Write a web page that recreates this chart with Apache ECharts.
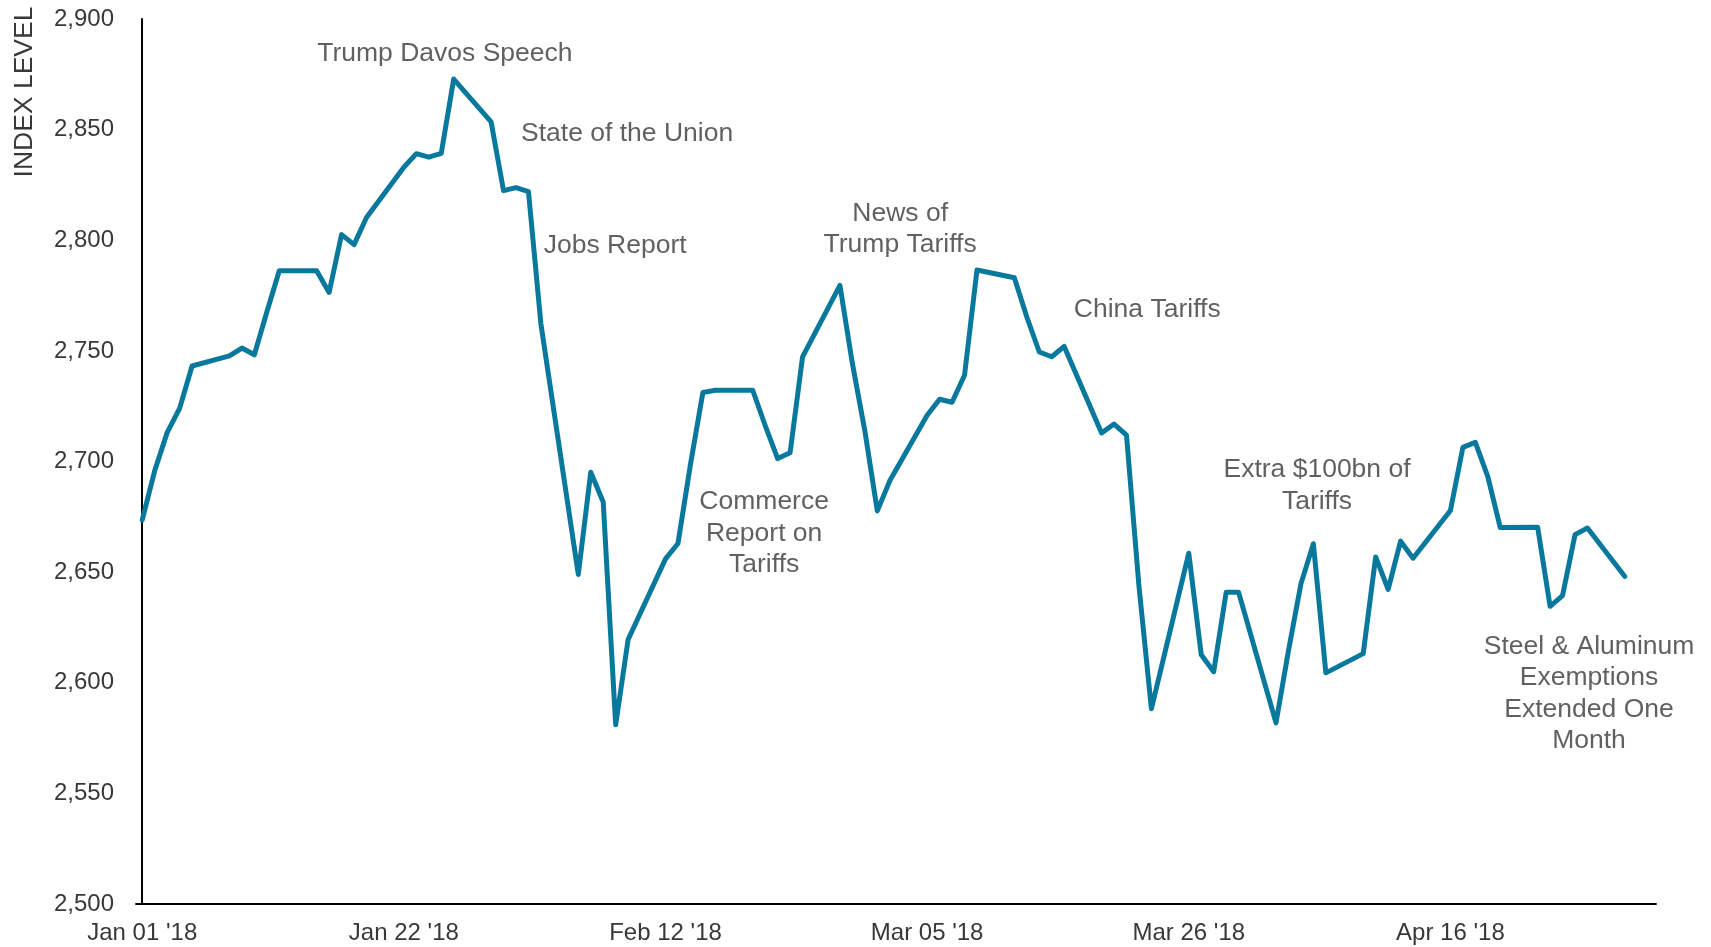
<!DOCTYPE html>
<html><head><meta charset="utf-8">
<script src="https://cdn.jsdelivr.net/npm/echarts@6/dist/echarts.min.js"></script>
<style>html,body{margin:0;padding:0;background:#fff}#c{width:1711px;height:947px}</style>
</head><body><div id="c"></div>
<script>
// Trading days (market holidays carried at the previous close)
const dates = [
'2018-01-01','2018-01-02','2018-01-03','2018-01-04','2018-01-05',
'2018-01-08','2018-01-09','2018-01-10','2018-01-11','2018-01-12',
'2018-01-15','2018-01-16','2018-01-17','2018-01-18','2018-01-19',
'2018-01-22','2018-01-23','2018-01-24','2018-01-25','2018-01-26',
'2018-01-29','2018-01-30','2018-01-31','2018-02-01','2018-02-02',
'2018-02-05','2018-02-06','2018-02-07','2018-02-08','2018-02-09',
'2018-02-12','2018-02-13','2018-02-14','2018-02-15','2018-02-16',
'2018-02-19','2018-02-20','2018-02-21','2018-02-22','2018-02-23',
'2018-02-26','2018-02-27','2018-02-28','2018-03-01','2018-03-02',
'2018-03-05','2018-03-06','2018-03-07','2018-03-08','2018-03-09',
'2018-03-12','2018-03-13','2018-03-14','2018-03-15','2018-03-16',
'2018-03-19','2018-03-20','2018-03-21','2018-03-22','2018-03-23',
'2018-03-26','2018-03-27','2018-03-28','2018-03-29','2018-03-30',
'2018-04-02','2018-04-03','2018-04-04','2018-04-05','2018-04-06',
'2018-04-09','2018-04-10','2018-04-11','2018-04-12','2018-04-13',
'2018-04-16','2018-04-17','2018-04-18','2018-04-19','2018-04-20',
'2018-04-23','2018-04-24','2018-04-25','2018-04-26','2018-04-27',
'2018-04-30'
];
const values = [
2673.61,2695.81,2713.06,2723.99,2743.15,
2747.71,2751.29,2748.23,2767.56,2786.24,
2786.24,2776.42,2802.56,2798.03,2810.30,
2832.97,2839.13,2837.54,2839.25,2872.87,
2853.53,2822.43,2823.81,2821.98,2762.13,
2648.94,2695.14,2681.66,2581.00,2619.55,
2656.00,2662.94,2698.63,2731.20,2732.22,
2732.22,2716.26,2701.33,2703.96,2747.30,
2779.60,2744.28,2713.83,2677.67,2691.25,
2720.94,2728.12,2726.80,2738.97,2786.57,
2783.02,2765.31,2749.48,2747.33,2752.01,
2712.92,2716.94,2711.93,2643.69,2588.26,
2658.55,2612.62,2605.00,2640.87,2640.87,
2581.88,2614.45,2644.69,2662.84,2604.47,
2613.16,2656.87,2642.19,2663.99,2656.30,
2677.84,2706.39,2708.64,2693.13,2670.14,
2670.29,2634.56,2639.40,2666.94,2669.91,
2648.05
];
const tickDates = ['2018-01-01','2018-01-22','2018-02-12','2018-03-05','2018-03-26','2018-04-16'];
const tickLabels = ["Jan 01 '18","Jan 22 '18","Feb 12 '18","Mar 05 '18","Mar 26 '18","Apr 16 '18"];
const annotationTexts = ['Trump Davos Speech','State of the Union','Jobs Report','News of\nTrump Tariffs','Commerce\nReport on\nTariffs','China Tariffs','Extra $100bn of\nTariffs','Steel & Aluminum\nExemptions\nExtended One\nMonth'];
const annotationAt = ['2018-01-25T07:00:00Z','2018-02-08T22:00:00Z','2018-02-07T23:00:00Z','2018-03-02T20:00:00Z','2018-02-19T22:00:00Z','2018-03-22T16:00:00Z','2018-04-05T07:00:00Z','2018-04-27T03:00:00Z'];
const annotationLevel = [2884.5,2848,2797.5,2805,2667.5,2768.5,2689,2595];

const START = Date.UTC(2018,0,1);
function dayOf(s){ const t = s.length > 10 ? Date.parse(s) : Date.parse(s + 'T00:00:00Z'); return (t - START) / 864e5; }
const tickDays = tickDates.map(dayOf);
const FONT = '"Liberation Sans", Arial, Helvetica, sans-serif';
const TXT = '#383838';

const chart = echarts.init(document.getElementById('c'), null, {renderer:'canvas'});
chart.setOption({
  animation:false,
  backgroundColor:'#fff',
  textStyle:{fontFamily:FONT},
  grid:{left:136,right:55,top:19,bottom:43,containLabel:false},
  xAxis:{
    type:'value', min:-0.5, max:121.5,
    splitLine:{show:false},
    axisTick:{show:false},
    axisLine:{show:true,onZero:false,lineStyle:{color:'#000',width:2}},
    axisLabel:{
      customValues:tickDays,
      formatter:function(v){ const i = tickDays.indexOf(v); return i >= 0 ? tickLabels[i] : ''; },
      fontSize:24, color:TXT, margin:17, fontFamily:FONT
    }
  },
  yAxis:{
    type:'value', min:2500, max:2900, interval:50,
    splitLine:{show:false},
    axisTick:{show:false},
    axisLine:{show:true,lineStyle:{color:'#000',width:2}},
    axisLabel:{
      formatter:function(v){ return v.toLocaleString('en-US'); },
      fontSize:24, color:TXT, margin:22, fontFamily:FONT
    }
  },
  graphic:[{
    type:'text', x:25, y:92, rotation:Math.PI/2,
    style:{text:'INDEX LEVEL', fontSize:26.5, fontFamily:FONT, fill:TXT, textAlign:'center', textVerticalAlign:'middle'}
  }],
  series:[{
    type:'line',
    data:dates.map(function(d,i){ return [dayOf(d), values[i]]; }),
    showSymbol:false, symbol:'none',
    lineStyle:{color:'#08799D', width:5, join:'round', cap:'round'},
    silent:true
  },{
    type:'scatter',
    data:annotationTexts.map(function(t,i){ return [dayOf(annotationAt[i]), annotationLevel[i], t]; }),
    symbolSize:0,
    silent:true,
    label:{
      show:true, position:'inside',
      formatter:function(p){ return p.data[2]; },
      fontSize:26.5, lineHeight:31.5, color:TXT, fontFamily:FONT,
      align:'center', verticalAlign:'middle'
    }
  }]
});
</script>
</body></html>
